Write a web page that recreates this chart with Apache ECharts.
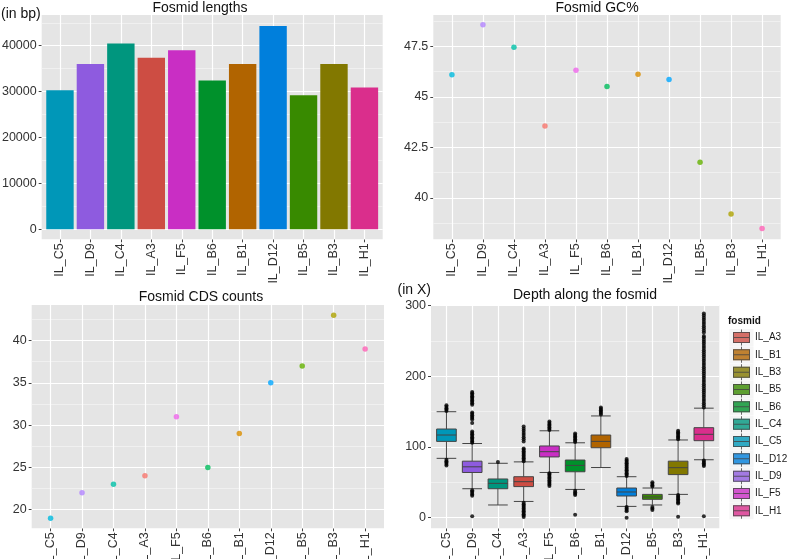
<!DOCTYPE html>
<html><head><meta charset="utf-8">
<script src="https://cdn.jsdelivr.net/npm/echarts@6/dist/echarts.min.js"></script>
<style>html,body{margin:0;padding:0;background:#fff}#c{width:787px;height:559px}</style>
</head><body><div id="c"></div>
<script>
// ---------------- data ----------------
const categories = ['IL_C5','IL_D9','IL_C4','IL_A3','IL_F5','IL_B6','IL_B1','IL_D12','IL_B5','IL_B3','IL_H1'];
const fosmidLengths = [30300,36000,40500,37400,39000,32400,36000,44300,29200,36000,30900];
const gcPercent = [46.09,48.57,47.46,43.56,46.31,45.51,46.12,45.86,41.76,39.2,38.49];
const cdsCounts = [19,22,23,24,31,25,29,35,37,43,39];
// [lower whisker, Q1, median, Q3, upper whisker], in category order
const depthBoxes = [
  [84,108,117,125.5,150],
  [41,64,72,80,105],
  [18,41,48.6,54.8,77],
  [23,44,51,58,79],
  [64,86,93.4,101.5,123],
  [40,65,74,81.6,106],
  [71,99,108,117,144],
  [16,30.7,36.4,42,58],
  [18,26,29.3,33,42],
  [33,61,70.8,80,110],
  [82,109,118,127.4,155]
];
const depthOutliers = [
  [151,153,155,157,159,74,76,78,80,82],
  [106,108,110,112,114,116,118,120,122,134,139,141,143,145,147,149,160,162,164,166,168,170,172,174,176,178,31,33,35,37,39,2],
  [79],
  [80,82,84,86,88,90,92,94,96,98,108,111,114,117,120,123,126,129,1,3,5,7,9,11,13,15,17,19,21],
  [124,126,128,130,132,134,136,45,47,49,51,53,55,57,59,61,63],
  [107,109,111,113,115,117,119,32,34,36,38,4],
  [146,148,150,152,154,156],
  [59,61,63,65,67,69,71,73,75,77,79,81,83,9,11,13,15,0],
  [44,46,48,50,11,13,15],
  [111,113,115,117,119,121,123,20,22,24,26,28,30,32,1.5],
  [156,159,162,165,168,171,174,177,180,183,186,189,192,195,198,201,204,207,210,213,216,219,222,225,228,231,234,237,240,243,246,249,252,255,257,262,265,268,271,274,277,280,283,286,289,73,75,77,79,81,2]
];
const lengthTicks = [0,10000,20000,30000,40000];
const gcTicks = [40,42.5,45,47.5];
const cdsTicks = [20,25,30,35,40];
const depthTicks = [0,100,200,300];
const legendOrder = ['IL_A3','IL_B1','IL_B3','IL_B5','IL_B6','IL_C4','IL_C5','IL_D12','IL_D9','IL_F5','IL_H1'];

// ---------------- styles ----------------
const pointColors = {IL_A3:'#F8766D',IL_B1:'#DB8E00',IL_B3:'#AEA200',IL_B5:'#64B200',IL_B6:'#00BD5C',IL_C4:'#00C1A7',IL_C5:'#00BADE',IL_D12:'#00A6FF',IL_D9:'#B385FF',IL_F5:'#EF67EB',IL_H1:'#FF63B6'};
const fillColors = {IL_A3:'#CD4D43',IL_B1:'#B16400',IL_B3:'#827800',IL_B5:'#388A00',IL_B6:'#00912B',IL_C4:'#00967E',IL_C5:'#0097B8',IL_D12:'#007FDC',IL_D9:'#8E5BDF',IL_F5:'#C92EC4',IL_H1:'#DA2E8C'};
const FONT = "'Liberation Sans',Arial,sans-serif";
const PANEL = '#E5E5E5', MINOR = '#F2F2F2', MAJOR = '#FFFFFF', NONE = 'rgba(0,0,0,0)';
const TICKFONT = 12.5;

const gridRects = [
  {left:41.7, top:15, width:341, height:224.3},
  {left:433.3, top:15, width:347.4, height:224.3},
  {left:31.7, top:305, width:352.3, height:223.3},
  {left:431, top:305, width:288.3, height:223.3}
];
const grids = gridRects.map(g => Object.assign({show:true, backgroundColor:PANEL, borderWidth:0, containLabel:false, outerBoundsMode:'none'}, g));

const catIdx = categories.map((c,i)=>i);
function xAxisCfg(gi) {
  return {type:'value', gridIndex:gi, min:-0.6, max:10.6, interval:0.2,
    axisLine:{show:false, onZero:false},
    axisTick:{show:true, customValues:catIdx, length:3, lineStyle:{color:'#444'}},
    splitLine:{show:false},
    axisLabel:{rotate:90, margin:4, fontSize:TICKFONT, fontFamily:FONT, color:'#333',
      formatter: v => { const r = Math.round(v); return Math.abs(v-r) < 1e-6 && r>=0 && r<categories.length ? categories[r] : ''; }}
  };
}
function yAxisCfg(gi, min, max, step, ticks) {
  return {type:'value', gridIndex:gi, min, max, interval:step,
    axisLine:{show:false, onZero:false},
    axisTick:{show:true, customValues:ticks, length:3, lineStyle:{color:'#444'}},
    splitLine:{show:false},
    axisLabel:{margin:5, fontSize:TICKFONT, fontFamily:FONT, color:'#333',
      formatter: v => { const t = ticks.find(t => Math.abs(t-v) < step/10); return t === undefined ? '' : String(t); }}
  };
}
// ggplot-style grid: white major lines at ticks and categories, lighter minor lines half-way
function minorOf(ticks, min, max) {
  const h = (ticks[1]-ticks[0])/2, out = [];
  [ticks[0]-h].concat(ticks.map(t=>t+h)).forEach(v => { if (v > min && v < max) out.push(v); });
  return out;
}
function gridLines(ticks, min, max) {
  const data = [];
  minorOf(ticks, min, max).forEach(v => data.push({yAxis:v, lineStyle:{color:MINOR, width:0.8}}));
  ticks.forEach(v => data.push({yAxis:v, lineStyle:{color:MAJOR, width:1.2}}));
  catIdx.forEach(v => data.push({xAxis:v, lineStyle:{color:MAJOR, width:1.2}}));
  return {silent:true, z:1, symbol:['none','none'], label:{show:false}, emphasis:{disabled:true},
    lineStyle:{type:'solid'}, animation:false, data};
}

const yCfg = [
  [-2200, 46700, 200, lengthTicks],
  [37.95, 49.05, 0.05, gcTicks],
  [17.8, 44.2, 0.1, cdsTicks],
  [-15, 301, 5, depthTicks]
];

const series = [
  {type:'bar', xAxisIndex:0, yAxisIndex:0, barWidth:'90%', z:2,
   markLine: gridLines(lengthTicks, yCfg[0][0], yCfg[0][1]),
   data: fosmidLengths.map((v,i)=>({value:[i,v], itemStyle:{color:fillColors[categories[i]]}}))},
  {type:'scatter', xAxisIndex:1, yAxisIndex:1, symbolSize:5.5, z:2,
   markLine: gridLines(gcTicks, yCfg[1][0], yCfg[1][1]),
   data: gcPercent.map((v,i)=>({value:[i,v], itemStyle:{color:pointColors[categories[i]]}}))},
  {type:'scatter', xAxisIndex:2, yAxisIndex:2, symbolSize:5.5, z:2,
   markLine: gridLines(cdsTicks, yCfg[2][0], yCfg[2][1]),
   data: cdsCounts.map((v,i)=>({value:[i,v], itemStyle:{color:pointColors[categories[i]]}}))},
  {type:'boxplot', xAxisIndex:3, yAxisIndex:3, boxWidth:['75%','75%'], z:2,
   markLine: gridLines(depthTicks, yCfg[3][0], yCfg[3][1]),
   data: depthBoxes.map((b,i)=>({value:[i].concat(b), itemStyle:{color:fillColors[categories[i]], borderColor:'#444', borderWidth:1}}))}
];
categories.forEach((c,i) => {
  series.push({type:'scatter', name:c, xAxisIndex:3, yAxisIndex:3, symbolSize:4, z:3,
    itemStyle:{color:'#000'}, data: depthOutliers[i].map(v=>[i,v])});
});

const keyBox = 'path://M0,0h0.01v0.01h-0.01z M16.99,16.99h0.01v0.01h-0.01z M0,3h17v11h-17z';
const keyLines = 'path://M0,0h0.01v0.01h-0.01z M16.99,16.99h0.01v0.01h-0.01z M0,3h17v11h-17z M1,4v9h15v-9z M1,8h15v1h-15z M8,0.5h1v2.5h-1z M8,14h1v2.5h-1z';
const legendBase = {orient:'vertical', top:329, padding:0, itemGap:0.33, itemHeight:17, selectedMode:false,
  textStyle:{fontSize:10, fontFamily:FONT, color:'#1a1a1a'}};
const legends = [
  Object.assign({}, legendBase, {left:729.5, itemWidth:24, z:3, textStyle:{fontSize:10, color:NONE},
    data: legendOrder.map(n=>({name:n, icon:'rect', itemStyle:{color:'#F2F2F2', borderWidth:0}}))}),
  Object.assign({}, legendBase, {left:733, itemWidth:17, z:4,
    data: legendOrder.map(n=>({name:n, icon:keyBox, itemStyle:{color:fillColors[n], borderWidth:0}}))}),
  Object.assign({}, legendBase, {left:733, itemWidth:17, z:5, textStyle:{fontSize:10, fontFamily:FONT, color:NONE},
    data: legendOrder.map(n=>({name:n, icon:keyLines, itemStyle:{color:'#444', borderWidth:0}}))})
];

function txt(text, x, y, opts) {
  return {type:'text', x, y, style:Object.assign({text, font:'14px '+FONT, fill:'#111', textAlign:'center', textVerticalAlign:'middle'}, opts||{})};
}

const option = {
  animation:false,
  backgroundColor:'#fff',
  grid: grids,
  xAxis: [xAxisCfg(0), xAxisCfg(1), xAxisCfg(2), xAxisCfg(3)],
  yAxis: yCfg.map((c,i) => yAxisCfg(i, c[0], c[1], c[2], c[3])),
  legend: legends,
  series,
  graphic: [
    txt('Fosmid lengths', 200, 8.5),
    txt('(in bp)', 1, 13.8, {textAlign:'left'}),
    txt('Fosmid GC%', 597, 8),
    txt('Fosmid CDS counts', 201, 297),
    txt('Depth along the fosmid', 585, 295.5),
    txt('(in X)', 397.5, 290.5, {textAlign:'left'}),
    txt('fosmid', 728, 321.7, {textAlign:'left', font:'bold 10px '+FONT})
  ]
};
const chart = echarts.init(document.getElementById('c'), null, {renderer:'canvas'});
chart.setOption(option);
</script></body></html>
